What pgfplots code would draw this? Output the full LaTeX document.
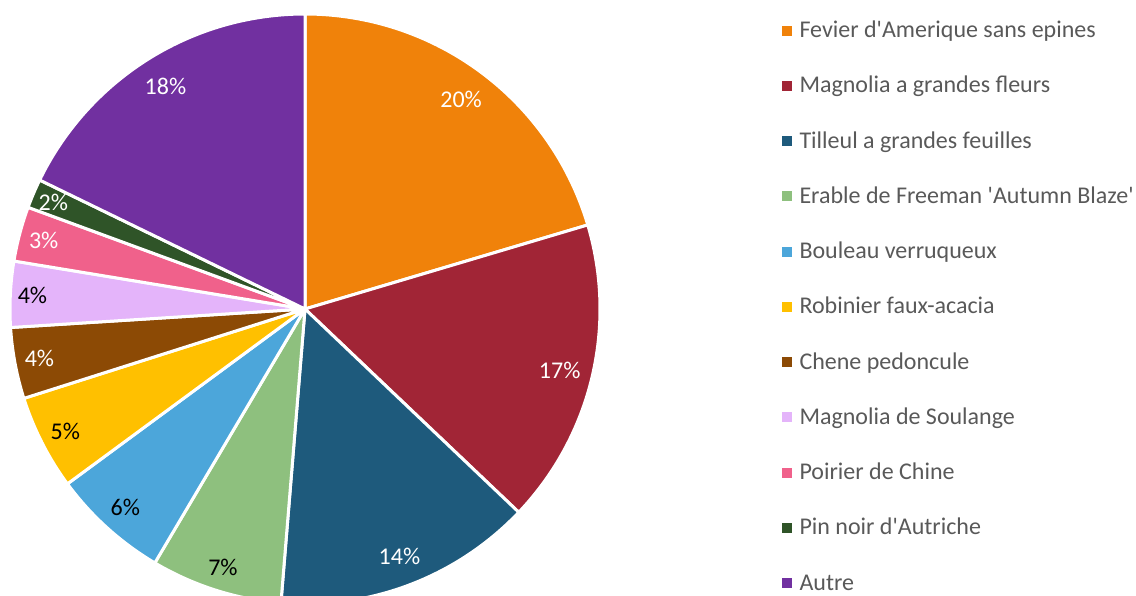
\documentclass[border=0pt]{standalone}
\usepackage{pgfplots}
\usepackage{pgfplotstable}
\pgfplotsset{compat=1.18}
\usepackage{fontspec}
\setmainfont{Carlito}

\definecolor{c0}{HTML}{F0820A}
\definecolor{c1}{HTML}{A12536}
\definecolor{c2}{HTML}{1E5A7C}
\definecolor{c3}{HTML}{8EC07E}
\definecolor{c4}{HTML}{4CA6DA}
\definecolor{c5}{HTML}{FFC000}
\definecolor{c6}{HTML}{8C4A05}
\definecolor{c7}{HTML}{E4B4FA}
\definecolor{c8}{HTML}{F0618B}
\definecolor{c9}{HTML}{2F5428}
\definecolor{c10}{HTML}{7130A0}
\definecolor{legtext}{HTML}{595959}

% share of each species (percent), label radius, label whiteness (100 = white, 0 = black)
\pgfplotstableread{
idx value lr tw
0 20.4 0.885 100
1 16.7 0.888 100
2 14.2 0.898 100
3 7.2 0.918 0
4 6.4 0.908 0
5 5.2 0.912 0
6 3.9 0.916 100
7 3.6 0.925 0
8 3.0 0.916 100
9 1.6 0.927 100
10 17.8 0.892 100
}\pietable
\pgfplotstablecreatecol[create col/expr accum={\pgfmathaccuma + \thisrow{value}}{0}]{cum}\pietable
\pgfplotstablecreatecol[create col/expr={90 - 3.6*\thisrow{cum}}]{aone}\pietable
\pgfplotstablecreatecol[create col/expr={90 - 3.6*(\thisrow{cum}-\thisrow{value})}]{atwo}\pietable
\pgfplotstablecreatecol[create col/expr={\thisrow{lr}*cos(90 - 3.6*(\thisrow{cum}-0.5*\thisrow{value}))}]{lx}\pietable
\pgfplotstablecreatecol[create col/expr={\thisrow{lr}*sin(90 - 3.6*(\thisrow{cum}-0.5*\thisrow{value}))}]{ly}\pietable

\begin{document}
\begin{tikzpicture}
\path[use as bounding box] (0,0) rectangle (1136bp,596bp);
\begin{axis}[
  at={(305bp,287bp)}, anchor=center,
  scale only axis, width=590bp, height=590bp,
  xmin=-1, xmax=1, ymin=-1, ymax=1,
  hide axis, clip=false,
  /pgf/number format/assume math mode=true,
  legend image code/.code={\fill[#1, draw=none] (0bp,-3bp) rectangle (10bp,7bp);},
  legend style={at={(axis description cs:1.308,0.9856)}, anchor=north west,
    draw=none, fill=none, inner sep=0pt, row sep=35.25bp, column sep=7.6bp,
    font=\fontsize{24bp}{28bp}\selectfont, text=legtext,
    nodes={inner sep=0pt, text height=15bp, text depth=5bp}},
  legend cell align=left,
]
\pgfplotsinvokeforeach{0,...,10}{
  \pgfplotstablegetelem{#1}{aone}\of\pietable \let\pa\pgfplotsretval
  \pgfplotstablegetelem{#1}{atwo}\of\pietable \let\pb\pgfplotsretval
  \addplot[fill=c#1, draw=white, line width=3bp, line join=round,
    domain=\pa:\pb, samples=90, variable=\t]
    ({cos(\t)}, {sin(\t)}) -- (axis cs:0,0) -- cycle;
}
\legend{Fevier d\textquotesingle{}Amerique sans epines,
  Magnolia a grandes fleurs,
  Tilleul a grandes feuilles,
  Erable de Freeman \textquotesingle{}Autumn Blaze\textquotesingle{},
  Bouleau verruqueux,
  Robinier faux-acacia,
  Chene pedoncule,
  Magnolia de Soulange,
  Poirier de Chine,
  Pin noir d\textquotesingle{}Autriche,
  Autre}
\addplot[forget plot, only marks, mark=none,
  point meta=explicit,
  nodes near coords={\pgfmathprintnumber[fixed,precision=0]{\pgfplotspointmeta}\%},
  visualization depends on={\thisrow{tw}\as\tw},
  every node near coord/.append style={anchor=center, text=white!\tw!black,
    font=\fontsize{24bp}{28bp}\selectfont}]
  table[x=lx, y=ly, meta=value] {\pietable};
\end{axis}
\end{tikzpicture}
\end{document}
